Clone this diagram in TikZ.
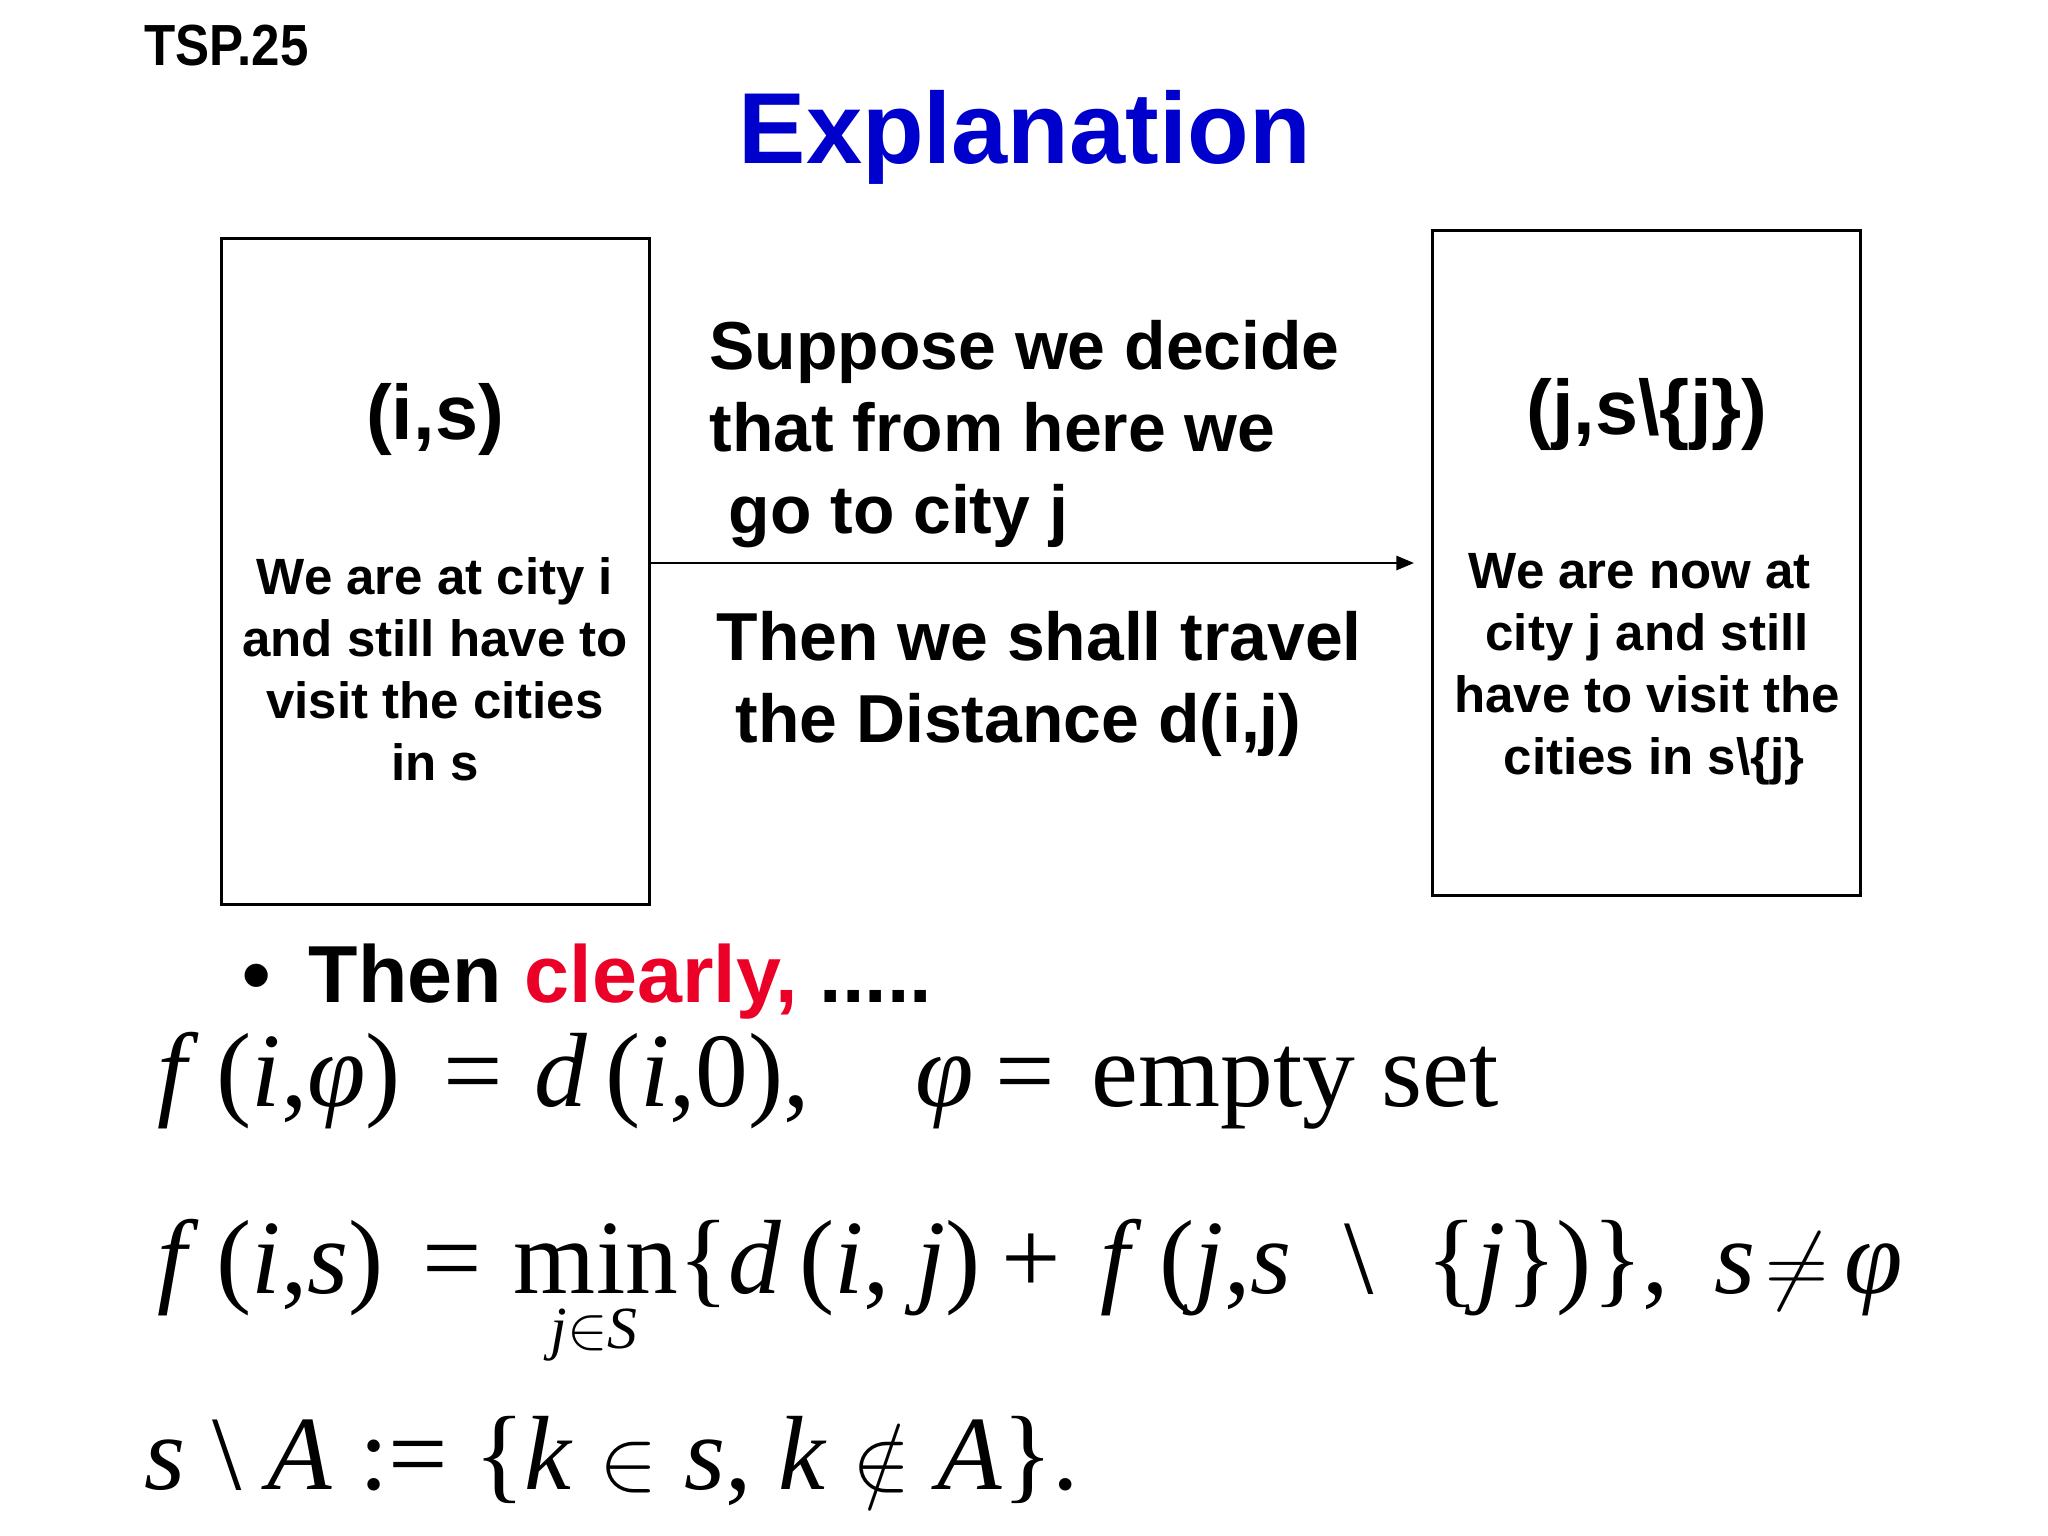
\documentclass[tikz,border=0pt]{standalone}
\usepackage{fontspec}
\setmainfont{Liberation Sans}
\newfontfamily\narrowsans[FakeStretch=0.88]{Liberation Sans}
\newfontfamily\eqfont{Liberation Serif}
\usetikzlibrary{arrows.meta}
\definecolor{titleblue}{RGB}{0,0,204}
\definecolor{clearred}{RGB}{235,0,40}
\tikzset{
    statebox/.style={draw, line width=0.9pt, minimum width=4.27cm, minimum height=6.65cm},
    boxhead/.style={font=\fontsize{22}{26}\selectfont\bfseries, anchor=base},
    boxtext/.style={font=\fontsize{14.5}{17.6}\selectfont\bfseries, align=center, anchor=base},
    midtext/.style={font=\fontsize{19.3}{23.2}\selectfont\bfseries, align=left, anchor=base west},
    eqline/.style={font=\eqfont\fontsize{30}{36}\selectfont, anchor=base west},
}
\begin{document}
\begin{tikzpicture}[x=0.01cm, y=-0.01cm, inner sep=0pt]
    \useasboundingbox[fill=white] (0,0) rectangle (2048,1536);
    \node[anchor=base west, font=\narrowsans\fontsize{16.5}{20}\selectfont\bfseries] (tsp) at (144,65) {TSP.25};
    \node[anchor=base west, font=\fontsize{28.7}{34}\selectfont\bfseries, text=titleblue] (title) at (738,163) {Explanation};
    % the two states
    \node[statebox] (lbox) at (435.5,571.5) {};
    \node[statebox] (rbox) at (1646.5,563) {};
    \node[boxhead] (lhead) at (435,439) {(i,s)};
    \node[boxtext] (lbody) at (435,780) {We are at city i\\and still have to\\visit the cities\\in s};
    \node[boxhead] (rhead) at (1647,434) {(j,s\textbackslash\{j\})};
    \node[boxtext] (rbody) at (1647,774) {We are now at\hspace*{0.28em}\\city j and still\hspace*{0.28em}\\have to visit the\\\hspace*{0.28em}cities in s\textbackslash\{j\}};
    % the move
    \node[midtext] (decide) at (709,533) {Suppose we decide\\that from here we\\\hspace*{0.28em}go to city j};
    \node[midtext] (travel) at (716,742) {Then we shall travel\\\hspace*{0.28em}the Distance d(i,j)};
    \coordinate (tip) at (1414,563);
    \draw[line width=0.7pt, -{Triangle[length=5pt,width=4pt]}] (lbox.east |- tip) -- (tip);
    % recursion
    \node[anchor=base west, font=\fontsize{23}{28}\selectfont\bfseries] (then) at (242,1002) {•\hspace{10.8pt}Then \textcolor{clearred}{clearly,} .....};
    \node[eqline] (eqa) at (157,1106) {\textit{f}\,(\textit{i},\textit{φ})\hspace{0.4em}=\hspace{0.3em}\textit{d}\,(\textit{i},0),\hspace{1em}\textit{φ}\hspace{0.2em}=\hspace{0.35em}empty set};
    \node[eqline] (eqb) at (157,1293) {\textit{f}\,(\textit{i},\textit{s})\hspace{0.37em}=\hspace{0.3em}min\{\textit{d}\,(\textit{i}, \textit{j})\hspace{0.2em}+\hspace{0.37em}\textit{f}\,(\textit{j},\textit{s}\hspace{0.5em}\textbackslash\hspace{0.5em}\{\textit{j}\})\},\hspace{0.43em}\textit{s}\hspace{0.1em}$\neq$\hspace{0.15em}\textit{φ}};
    \node[anchor=base, font=\eqfont\fontsize{17}{20}\selectfont] (minsub) at (594,1348) {\textit{j}$\in$\textit{S}};
    \node[eqline] (eqc) at (144,1489) {\textit{s} \textbackslash\ \textit{A} := \{\textit{k} $\in$ \textit{s}, \textit{k} $\notin$ \textit{A}\}.};
\end{tikzpicture}
\end{document}
